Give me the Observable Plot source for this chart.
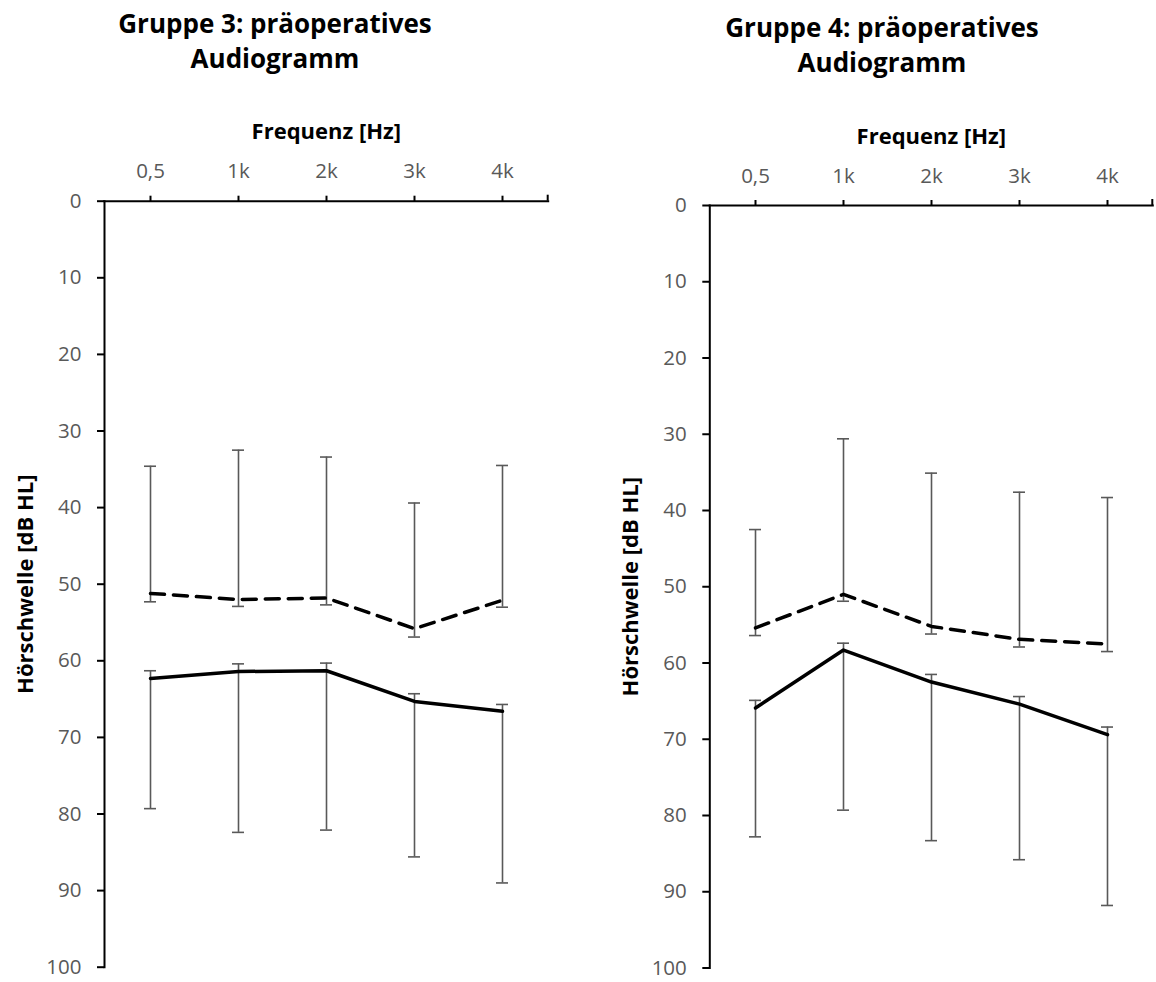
<!DOCTYPE html>
<html><head><meta charset="utf-8">
<script src="https://cdn.jsdelivr.net/npm/d3@7"></script>
<script src="https://cdn.jsdelivr.net/npm/@observablehq/plot@0.6"></script>
<style>
body{margin:0;background:#fff;font-family:"Open Sans",sans-serif;}
#wrap{position:relative;width:1156px;height:982px;overflow:hidden;background:#fff;}
.title{position:absolute;font-weight:700;font-size:26px;line-height:35px;text-align:center;color:#000;width:550px;}
.panel{position:absolute;top:90px;}
</style></head><body><div id="wrap"></div>
<script>
const freqs = ["0,5", "1k", "2k", "3k", "4k"];
const yTicks = [0, 10, 20, 30, 40, 50, 60, 70, 80, 90, 100];
const xTitle = "Frequenz [Hz]";
const yTitle = "Hörschwelle [dB HL]";
const titles = ["Gruppe 3: präoperatives<br>Audiogramm", "Gruppe 4: präoperatives<br>Audiogramm"];

// Gruppe 3
const g3Dashed       = [51.2, 52.0, 51.8, 55.8, 52.1];
const g3DashedTop    = [34.6, 32.5, 33.4, 39.4, 34.5];
const g3DashedBottom = [52.3, 52.9, 52.7, 56.9, 53.0];
const g3Solid        = [62.3, 61.4, 61.3, 65.3, 66.6];
const g3SolidTop     = [61.3, 60.4, 60.3, 64.3, 65.7];
const g3SolidBottom  = [79.3, 82.4, 82.1, 85.6, 89.0];

// Gruppe 4
const g4Dashed       = [55.4, 51.0, 55.2, 56.9, 57.5];
const g4DashedTop    = [42.5, 30.6, 35.1, 37.6, 38.3];
const g4DashedBottom = [56.4, 51.9, 56.2, 57.9, 58.5];
const g4Solid        = [65.9, 58.3, 62.5, 65.4, 69.4];
const g4SolidTop     = [64.9, 57.4, 61.5, 64.4, 68.4];
const g4SolidBottom  = [82.8, 79.3, 83.3, 85.8, 91.8];

const GRAY = "#595959";

function panel(s, m) {
  const rows = freqs.map((f, i) => ({
    f, dashed: s.dashed[i], dashedTop: s.dashedTop[i], dashedBottom: s.dashedBottom[i],
    solid: s.solid[i], solidTop: s.solidTop[i], solidBottom: s.solidBottom[i]
  }));
  const capInset = 38;
  const bar = {stroke: GRAY, strokeWidth: 1.6};
  const cap = (y) => Plot.tickY(rows, {x: "f", y, insetLeft: capInset, insetRight: capInset, ...bar});
  const endTick = (index, scales, values, dims) => {
    const x = dims.width - dims.marginRight;
    return d3.create("svg:line")
      .attr("x1", x).attr("x2", x)
      .attr("y1", dims.marginTop - 6).attr("y2", dims.marginTop)
      .attr("stroke", "black").attr("stroke-width", 2).node();
  };
  return Plot.plot({
    width: 578, height: 892,
    marginLeft: m.ml, marginRight: m.mr, marginTop: m.mt, marginBottom: m.mb,
    style: {fontFamily: "Open Sans", fontSize: "20px", background: "white", overflow: "visible"},
    x: {type: "band", domain: freqs, paddingInner: 0, paddingOuter: 0, axis: null},
    y: {domain: [0, 100], reverse: true, axis: null},
    marks: [
      Plot.ruleX(rows, {x: "f", y1: "dashedTop", y2: "dashedBottom", ...bar}),
      Plot.ruleX(rows, {x: "f", y1: "solidTop", y2: "solidBottom", ...bar}),
      cap("dashedTop"), cap("dashedBottom"), cap("solidTop"), cap("solidBottom"),
      Plot.line(rows, {x: "f", y: "dashed", stroke: "black", strokeWidth: 3.5, strokeDasharray: "14,9"}),
      Plot.line(rows, {x: "f", y: "solid", stroke: "black", strokeWidth: 3.5}),
      Plot.axisY({ticks: yTicks, tickSize: 7, tickPadding: 16, stroke: "black", strokeWidth: 2, fill: GRAY, fontSize: 20.5, textStroke: "none", label: null}),
      Plot.axisX({anchor: "top", tickSize: 6, tickPadding: 17, stroke: "black", strokeWidth: 2, fill: GRAY, fontSize: 20.5, label: null}),
      Plot.frame({anchor: "left", stroke: "black", strokeWidth: 2}),
      Plot.frame({anchor: "top", stroke: "black", strokeWidth: 2}),
      endTick,
      Plot.text([xTitle], {text: d => d, frameAnchor: "top", lineAnchor: "middle", dy: -69, fontWeight: "bold", fontSize: 22, fill: "black"}),
      Plot.text([yTitle], {text: d => d, frameAnchor: "left", textAnchor: "middle", lineAnchor: "middle", rotate: -90, dx: -79, fontWeight: "bold", fontSize: 22, fill: "black"})
    ]
  });
}

const wrap = document.getElementById("wrap");

const t1 = document.createElement("div");
t1.className = "title"; t1.style.left = "0px"; t1.style.top = "6px"; t1.innerHTML = titles[0];
wrap.appendChild(t1);
const t2 = document.createElement("div");
t2.className = "title"; t2.style.left = "607px"; t2.style.top = "10px"; t2.innerHTML = titles[1];
wrap.appendChild(t2);

const p1 = document.createElement("div");
p1.className = "panel"; p1.style.left = "0px";
p1.appendChild(panel({dashed: g3Dashed, dashedTop: g3DashedTop, dashedBottom: g3DashedBottom,
  solid: g3Solid, solidTop: g3SolidTop, solidBottom: g3SolidBottom},
  {ml: 104, mr: 30.3, mt: 110.7, mb: 15.3}));
wrap.appendChild(p1);

const p2 = document.createElement("div");
p2.className = "panel"; p2.style.left = "578px";
p2.appendChild(panel({dashed: g4Dashed, dashedTop: g4DashedTop, dashedBottom: g4DashedBottom,
  solid: g4Solid, solidTop: g4SolidTop, solidBottom: g4SolidBottom},
  {ml: 131.3, mr: 3.7, mt: 115, mb: 14.5}));
wrap.appendChild(p2);
</script>
</body></html>
